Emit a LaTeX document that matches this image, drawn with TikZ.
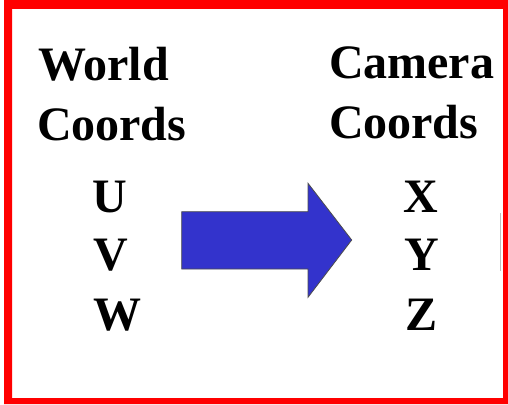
\documentclass[tikz,border=0pt]{standalone}
\usepackage{fontspec}
\setmainfont{Liberation Serif}
\definecolor{arrowblue}{HTML}{3333CC}
\begin{document}
\begin{tikzpicture}[x=1pt,y=-1pt,
  lbl/.style={anchor=base west,inner sep=0pt,outer sep=0pt,font=\fontsize{48}{58}\selectfont\bfseries}]
\useasboundingbox (0,0) rectangle (508,404);
\fill[white] (0,0) rectangle (508,404);
% red frame
\fill[red,even odd rule] (4,0) rectangle (508,404) (12,9) rectangle (503,398);
% faint artifact line
\draw[black!25,line width=1.5pt] (500.7,213) -- (500.7,271);
% labels
\node[lbl] (world) at (38,80) {World};
\node[lbl] (wcoords) at (37,140) {Coords};
\node[lbl] (camera) at (329,78) {Camera};
\node[lbl] (ccoords) at (329,138) {Coords};
\node[lbl] (u) at (92,212) {U};
\node[lbl] (v) at (93,270) {V};
\node[lbl] (w) at (93,330) {W};
\node[lbl] (x) at (403,212) {X};
\node[lbl] (y) at (404,270) {Y};
\node[lbl] (z) at (405,330) {Z};
% arrow
\draw[fill=arrowblue,draw=black!70,line width=0.8pt,line join=miter]
  (181.7,211.7) -- (308,211.7) -- (308,183.3) -- (351.7,240) -- (308,297.3) -- (308,269) -- (181.7,269) -- cycle;
\end{tikzpicture}
\end{document}
